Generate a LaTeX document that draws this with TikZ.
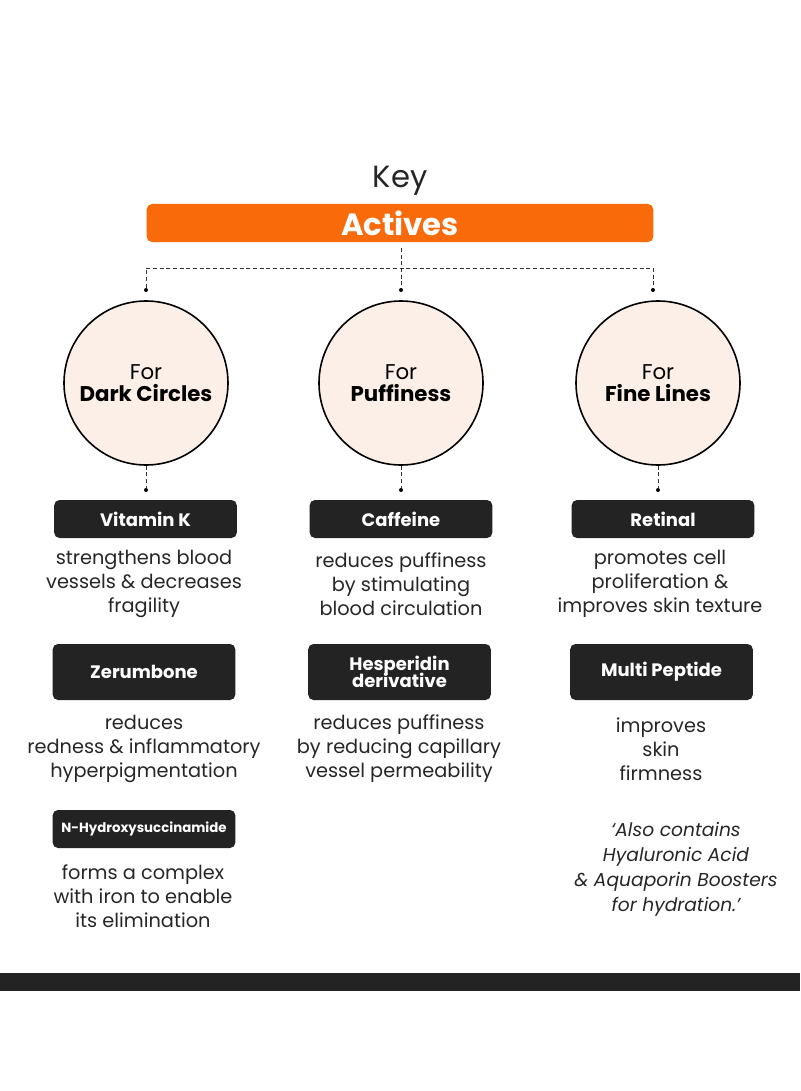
\documentclass[tikz,border=0pt]{standalone}
\usepackage{fontspec}
\setmainfont{Poppins}
\begin{document}
\begin{tikzpicture}[x=0.75pt,y=-0.75pt,
 circ/.style={circle,draw=black,line width=1.2pt,fill=peach,minimum size=123pt,inner sep=0pt,align=center,font=\fontsize{16}{19}\selectfont},
 blk/.style={rectangle,rounded corners=4pt,fill=dark,text=white,minimum width=137pt,minimum height=28.5pt,align=center,font=\bfseries\fontsize{13.5}{14}\selectfont,inner sep=1pt},
 blk2/.style={blk,minimum height=42pt},
 desc/.style={align=center,font=\fontsize{14.5}{18}\selectfont,text=black!85},
 dashc/.style={densely dashed,line width=0.6pt,black!80},
 dot/.style={circle,fill=black,inner sep=0pt,minimum size=3pt}]
\definecolor{peach}{HTML}{FCEFE7}
\definecolor{dark}{HTML}{232323}
\definecolor{orng}{HTML}{F96B0A}
\useasboundingbox (0,0) rectangle (800,1091);
\node[font=\fontsize{23}{26}\selectfont,text=black!85] (key) at (400,181) {Key};
\node[rectangle,rounded corners=4pt,fill=orng,minimum width=380pt,minimum height=28.5pt,text=white,font=\bfseries\fontsize{23}{26}\selectfont,inner sep=0pt] (act) at (400,223) {Actives};
\coordinate (t0) at (401,248);
\coordinate (h) at (401,268);
\coordinate (hl) at (146,268);
\coordinate (hr) at (653,268);
\node[dot] (d1) at (146,290) {};
\node[dot] (d2) at (401,290) {};
\node[dot] (d3) at (653,290) {};
\draw[dashc] (t0) -- (d2);
\draw[dashc] (d1) -- (hl) -- (hr) -- (d3);
\node[circ] (c1) at (146,383) {For\\[-2pt]\textbf{Dark Circles}};
\node[circ] (c2) at (401,383) {For\\[-2pt]\textbf{Puffiness}};
\node[circ] (c3) at (658,383) {For\\[-2pt]\textbf{Fine Lines}};
\node[dot] (e1) at (146,490) {};
\node[dot] (e2) at (401,490) {};
\node[dot] (e3) at (658,490) {};
\draw[dashc] (c1) -- (e1);
\draw[dashc] (c2) -- (e2);
\draw[dashc] (c3) -- (e3);
\node[blk] (vk) at (145.5,519) {Vitamin K};
\node[blk] (cf) at (401,519) {Caffeine};
\node[blk] (rt) at (663,519) {Retinal};
\node[desc] at (144,584) {strengthens blood\\vessels \& decreases\\fragility};
\node[desc] at (401,584) {reduces puffiness\\by stimulating\\blood circulation};
\node[desc] at (660,584) {promotes cell\\proliferation \&\\improves skin texture};
\node[blk2] (zr) at (144,672) {Zerumbone};
\node[blk2] (hd) at (399.5,672) {Hesperidin\\[-3pt]derivative};
\node[blk2] (mp) at (661.5,672) {Multi Peptide};
\node[desc] at (144,749) {reduces\\redness \& inflammatory\\hyperpigmentation};
\node[desc] at (399,749) {reduces puffiness\\by reducing capillary\\vessel permeability};
\node[desc] at (661,749) {improves\\skin\\firmness};
\node[blk,font=\bfseries\fontsize{10}{12}\selectfont] (nh) at (144,829) {N-Hydroxysuccinamide};
\node[desc] at (143,896) {forms a complex\\with iron to enable\\its elimination};
\node[desc,font=\itshape\fontsize{14}{18.8}\selectfont] at (676,869) {‘Also contains\\Hyaluronic Acid\\\& Aquaporin Boosters\\for hydration.’};
\fill[dark] (0,973) rectangle (800,991);
\end{tikzpicture}
\end{document}
